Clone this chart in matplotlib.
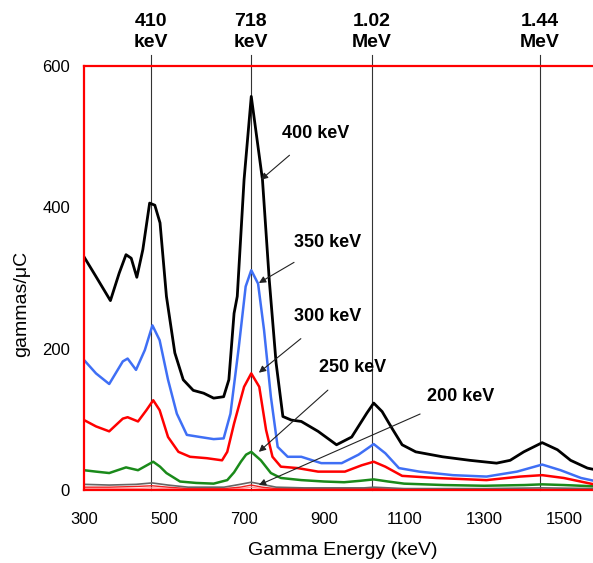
import numpy as np
import matplotlib.pyplot as plt

plt.rcParams['font.family'] = ['Liberation Sans', 'DejaVu Sans']

# gamma spectra (energy in keV, gammas/uC)
e_400 = [300, 330, 366, 388, 405, 418, 432, 447, 464, 477, 490, 506, 527, 548, 573, 599, 624, 649, 662,
         675, 683, 700, 718, 746, 763, 780, 797, 818, 843, 885, 931, 969, 1007, 1024, 1045, 1070, 1095,
         1129, 1196, 1264, 1331, 1365, 1399, 1445, 1483, 1516, 1558, 1583]
v_400 = [330, 302, 268, 307, 333, 328, 301, 340, 406, 403, 378, 274, 194, 156, 141, 137, 130, 132, 156,
         250, 274, 439, 557, 439, 297, 180, 104, 99, 97, 83, 64, 75, 109, 123, 111, 87, 64,
         54, 47, 42, 38, 42, 54, 67, 57, 42, 31, 28]

e_350 = [300, 330, 363, 397, 409, 430, 452, 471, 489, 510, 532, 557, 590, 624, 649, 666, 687, 704, 718,
         735, 750, 767, 784, 809, 843, 893, 944, 986, 1024, 1053, 1087, 1138, 1222, 1306, 1382, 1445,
         1491, 1542, 1583]
v_350 = [184, 165, 150, 182, 186, 170, 198, 233, 212, 156, 108, 78, 75, 72, 73, 108, 203, 288, 311,
         292, 226, 132, 61, 47, 47, 38, 38, 50, 65, 52, 31, 26, 21, 19, 26, 36,
         28, 17, 12]

e_300 = [300, 330, 363, 397, 409, 435, 456, 473, 489, 510, 536, 565, 607, 645, 658, 675, 700, 718,
         738, 755, 771, 792, 834, 885, 952, 994, 1024, 1053, 1095, 1180, 1306, 1390, 1445, 1499, 1583]
v_300 = [99, 90, 83, 101, 103, 97, 113, 127, 113, 75, 54, 47, 45, 42, 54, 94, 146, 165,
         146, 85, 47, 33, 31, 26, 26, 35, 40, 33, 20, 17, 14, 19, 21, 17, 7]

e_250 = [300, 330, 363, 405, 435, 473, 490, 506, 540, 580, 624, 658, 675, 692, 705, 718, 742, 767,
         792, 843, 900, 950, 990, 1024, 1060, 1100, 1200, 1300, 1400, 1445, 1500, 1583]
v_250 = [28, 26, 24, 32, 28, 40, 33, 24, 12, 10, 9, 14, 25, 40, 50, 54, 42, 24,
         17, 14, 12, 11, 13, 15, 12, 9, 7, 6, 7, 8, 7, 5]

e_low = [300, 363, 430, 470, 510, 560, 650, 690, 718, 745, 780, 850, 1000, 1024, 1100, 1300, 1445, 1583]
v_200 = [8, 7, 8, 10, 7, 4, 4, 8, 11, 8, 4, 3, 3, 4, 2, 2, 3, 2]
v_150 = [4, 4, 5, 6, 4, 2, 2, 4, 7, 4, 2, 2, 2, 2, 1, 1, 1, 1]
v_100 = [2, 2, 2, 3, 2, 1, 1, 2, 4, 2, 1, 1, 1, 1, 0.5, 0.5, 0.5, 0.5]

peak_e = [467, 717, 1020, 1440]
peak_labels = ['410\nkeV', '718\nkeV', '1.02\nMeV', '1.44\nMeV']

fig = plt.figure(figsize=(5.93, 5.63), dpi=100)
ax = fig.add_axes([84/593, 1-490/563, 1-84/593, 424/563])

for x, lab in zip(peak_e, peak_labels):
    ax.axvline(x, ymin=0, ymax=1.026, color='#333333', lw=0.8, clip_on=False, zorder=1)
    ax.text(x, 1.036, lab, transform=ax.get_xaxis_transform(), ha='center', va='bottom',
            fontsize=14, fontweight='bold', linespacing=1.3)

ax.plot(e_low, v_100, color='#ff9999', lw=1.0)
ax.plot(e_low, v_150, color='#ee2222', lw=1.0)
ax.plot(e_low, v_200, color='#666666', lw=1.2)
ax.plot(e_250, v_250, color='#1a8a1a', lw=1.8)
ax.plot(e_300, v_300, color='#ff0000', lw=1.8)
ax.plot(e_350, v_350, color='#3f6ff5', lw=1.8)
ax.plot(e_400, v_400, color='black', lw=2.0)

# labels with arrows
notes = [('400 keV', (742, 439), (878, 505)),
         ('350 keV', (737, 293), (909, 350)),
         ('300 keV', (737, 166), (909, 245)),
         ('250 keV', (737, 54), (972, 173)),
         ('200 keV', (737, 7), (1242, 133))]
for txt, xy, xyt in notes:
    ax.annotate(txt, xy=xy, xytext=xyt, ha='center', va='center', fontsize=13, fontweight='bold',
                arrowprops=dict(arrowstyle='-|>', color='#222222', lw=0.8, mutation_scale=10,
                                shrinkA=12, shrinkB=0))

ax.set_xlim(300, 1572)
ax.set_ylim(0, 600)
ax.set_xticks([300, 500, 700, 900, 1100, 1300, 1500])
ax.set_yticks([0, 200, 400, 600])
ax.tick_params(length=0, labelsize=12)
ax.tick_params(axis='x', pad=16)
ax.tick_params(axis='y', pad=10)
for s in ['left', 'top', 'bottom']:
    ax.spines[s].set_color('red')
    ax.spines[s].set_linewidth(1.6)
ax.spines['right'].set_visible(False)

ax.set_xlabel('Gamma Energy (keV)', fontsize=14, va='center')
ax.set_ylabel('gammas/μC', fontsize=14, va='center')
ax.xaxis.set_label_coords(0.509, -0.142)
ax.yaxis.set_label_coords(-0.122, 0.44)

plt.savefig('out.png', dpi=100)
